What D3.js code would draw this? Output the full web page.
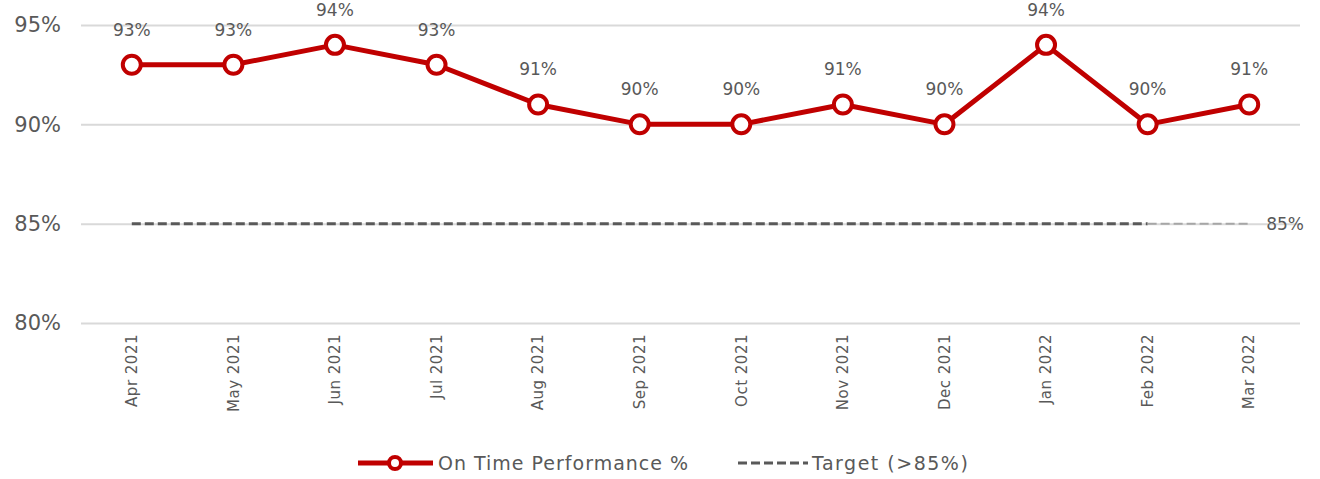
<html>
  <meta charset="utf-8" />
  <script src="https://d3js.org/d3.v7.min.js"></script>
  <style>
    body { margin: 0; background: #fff; }
    text { font-family: "DejaVu Sans", sans-serif; fill: #595959; }
  </style>
  <body>
    <svg width="1320" height="479" id="chart"></svg>
    <script>
      const months = ["Apr 2021", "May 2021", "Jun 2021", "Jul 2021", "Aug 2021", "Sep 2021",
        "Oct 2021", "Nov 2021", "Dec 2021", "Jan 2022", "Feb 2022", "Mar 2022"];
      const onTime = [93, 93, 94, 93, 91, 90, 90, 91, 90, 94, 90, 91];
      const target = [85, 85, 85, 85, 85, 85, 85, 85, 85, 85, 85, 85];
      const yTicks = [80, 85, 90, 95];

      const red = "#c00000";
      const font = "DejaVu Sans, sans-serif";
      const svg = d3.select("#chart");

      const x = d3.scaleBand().domain(months).range([81, 1300]);
      const cx = (d) => x(d) + x.bandwidth() / 2;
      const y = d3.scaleLinear().domain([80, 95]).range([323, 25]);

      // gridlines + y labels
      const yAxis = svg.append("g")
        .attr("transform", "translate(81,0)")
        .call(d3.axisLeft(y).tickValues(yTicks).tickSize(-1219).tickFormat((d) => d + "%"));
      yAxis.select(".domain").remove();
      yAxis.selectAll(".tick line").attr("stroke", "#d9d9d9").attr("stroke-width", 2);
      yAxis.selectAll(".tick text")
        .attr("x", -20)
        .attr("font-size", 21)
        .style("font-family", font)
        .attr("fill", "#595959");

      // x labels
      const xAxis = svg.append("g")
        .attr("transform", "translate(0,323)")
        .call(d3.axisBottom(x).tickSize(0));
      xAxis.select(".domain").remove();
      xAxis.selectAll(".tick text")
        .attr("transform", "rotate(-90)")
        .attr("text-anchor", "end")
        .attr("x", -11)
        .attr("y", 0)
        .attr("dy", "0.35em")
        .attr("font-size", 15)
        .attr("letter-spacing", 0.5)
        .style("font-family", font)
        .attr("fill", "#595959");

      // target line
      const last = months.length - 1;
      const tLine = d3.line().x((d, i) => cx(months[i])).y((d) => y(d));
      svg.append("path")
        .datum(target.slice(0, last))
        .attr("d", tLine)
        .attr("fill", "none")
        .attr("stroke", "#595959")
        .attr("stroke-width", 3)
        .attr("stroke-dasharray", "9,4");
      svg.append("line")
        .attr("x1", cx(months[last - 1]))
        .attr("x2", cx(months[last]))
        .attr("y1", y(target[last]))
        .attr("y2", y(target[last]))
        .attr("stroke", "#a6a6a6")
        .attr("stroke-width", 2)
        .attr("stroke-dasharray", "9,4");
      svg.append("text")
        .attr("x", cx(months[last]) + 17)
        .attr("y", y(target[last]))
        .attr("dy", "0.35em")
        .attr("font-size", 17)
        .text(target[last] + "%");

      // on time performance line
      const line = d3.line().x((d, i) => cx(months[i])).y((d) => y(d));
      svg.append("path")
        .datum(onTime)
        .attr("d", line)
        .attr("fill", "none")
        .attr("stroke", red)
        .attr("stroke-width", 5)
        .attr("stroke-linejoin", "round");

      svg.selectAll(".pt")
        .data(onTime)
        .enter()
        .append("circle")
        .attr("class", "pt")
        .attr("cx", (d, i) => cx(months[i]))
        .attr("cy", (d) => y(d))
        .attr("r", 9)
        .attr("fill", "#fff")
        .attr("stroke", red)
        .attr("stroke-width", 4);

      svg.selectAll(".lbl")
        .data(onTime)
        .enter()
        .append("text")
        .attr("class", "lbl")
        .attr("x", (d, i) => cx(months[i]))
        .attr("y", (d) => y(d) - 29)
        .attr("text-anchor", "middle")
        .attr("font-size", 17)
        .text((d) => d + "%");

      // legend
      const lg = svg.append("g").attr("transform", "translate(0,463)");
      lg.append("line").attr("x1", 358).attr("x2", 433).attr("y1", 0).attr("y2", 0)
        .attr("stroke", red).attr("stroke-width", 5);
      lg.append("circle").attr("cx", 395).attr("cy", 0).attr("r", 6)
        .attr("fill", "#fff").attr("stroke", red).attr("stroke-width", 4);
      lg.append("text").attr("x", 438).attr("y", 0).attr("dy", "0.35em")
        .attr("font-size", 19).attr("letter-spacing", 1).text("On Time Performance %");
      lg.append("line").attr("x1", 738).attr("x2", 808).attr("y1", 0).attr("y2", 0)
        .attr("stroke", "#595959").attr("stroke-width", 3).attr("stroke-dasharray", "9,4");
      lg.append("text").attr("x", 812).attr("y", 0).attr("dy", "0.35em")
        .attr("font-size", 19).attr("letter-spacing", 1.5).text("Target (>85%)");
    </script>
  </body>
</html>
